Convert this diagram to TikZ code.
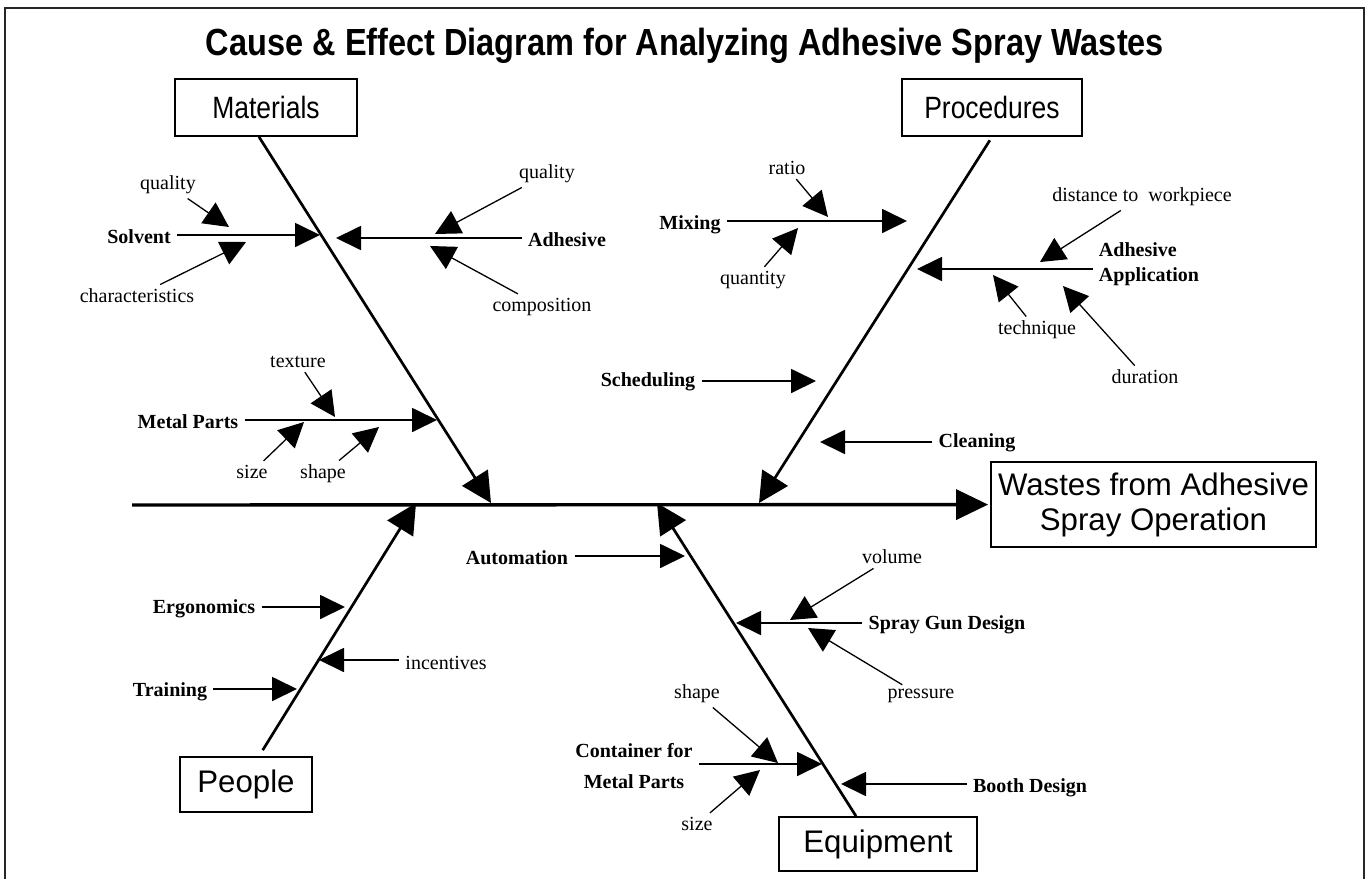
\documentclass[tikz,border=0pt]{standalone}
\usepackage{fontspec}
\setmainfont{Liberation Serif}
\newfontfamily\narrowsf[FakeStretch=0.86]{Liberation Sans}
\newfontfamily\plainsf{Liberation Sans}
\usetikzlibrary{arrows.meta}

\begin{document}
\begin{tikzpicture}[x=0.5pt,y=-0.5pt,
        catbox/.style={draw,line width=0.9pt,inner sep=0pt},
        causelbl/.style={font=\fontsize{10}{12.5}\selectfont\bfseries,inner sep=3pt},
        sublbl/.style={font=\fontsize{10}{12}\selectfont,inner sep=2pt},
        spine/.style={line width=1.7pt,-{Triangle[length=16pt,width=15pt]}},
        bone/.style={line width=1.35pt,-{Triangle[length=15pt,width=15pt]}},
        branch/.style={line width=0.9pt,-{Triangle[length=12.5pt,width=12pt]}},
        subarrow/.style={line width=0.65pt,-{Triangle[length=12.5pt,width=12.5pt]}}]
        \useasboundingbox (0,0) rectangle (1367,879);
        \draw [line width=1pt,black!85] (5,890) -- (5,8) -- (1364,8) -- (1364,890);

        \node [anchor=base,font=\narrowsf\bfseries\fontsize{18.9}{22}\selectfont] at (685,55) (title) {Cause \& Effect Diagram for Analyzing Adhesive Spray Wastes};

        \node [catbox,minimum width=91pt,minimum height=28.5pt,font=\narrowsf\fontsize{15.4}{18}\selectfont] at (266,107.5) (materials) {Materials};
        \node [catbox,minimum width=90pt,minimum height=28.5pt,font=\narrowsf\fontsize{15.4}{18}\selectfont] at (992,107.5) (procedures) {Procedures};
        \node [catbox,minimum width=66pt,minimum height=27.5pt,font=\plainsf\fontsize{15.6}{18}\selectfont] at (246,784.5) (people) {People};
        \node [catbox,minimum width=99pt,minimum height=27pt,font=\plainsf\fontsize{15.6}{18}\selectfont] at (878,844) (equipment) {Equipment};
        \node [catbox,minimum width=162.5pt,minimum height=42.5pt,align=center,font=\plainsf\fontsize{15.6}{17.5}\selectfont] at (1153.5,504.5) (effect) {Wastes from Adhesive\\Spray Operation};

        \coordinate (tail) at (132,505);
        \draw [spine,shorten >=1pt] (tail) -- (effect);

        \coordinate (m-tip) at (491,503);
        \coordinate (p-tip) at (759,503);
        \coordinate (pe-tip) at (416,503);
        \coordinate (e-tip) at (657,503);
        \draw [bone] ([xshift=-3.5pt]materials.south) -- (m-tip);
        \draw [bone,shorten <=2pt] (procedures.south) -- (p-tip);
        \draw [bone,shorten <=3.5pt] ([xshift=6.5pt]people.north) -- (pe-tip);
        \draw [bone] ([xshift=-11pt]equipment.north) -- (e-tip);

        \node [causelbl] at (139,237) (solvent) {Solvent};
        \node [causelbl] at (567,240) (adhesive) {Adhesive};
        \node [causelbl] at (188,422) (metal) {Metal Parts};
        \coordinate (solvent-tip) at (320,235);
        \coordinate (adhesive-tip) at (336,238);
        \coordinate (metal-tip) at (437,420);
        \draw [branch] (solvent.east |- solvent-tip) -- (solvent-tip);
        \draw [branch] (adhesive.west |- adhesive-tip) -- (adhesive-tip);
        \draw [branch] (metal.east |- metal-tip) -- (metal-tip);

        \node [causelbl] at (690,225) (mixing) {Mixing};
        \node [causelbl,align=left] at (1149,264) (application) {Adhesive\\Application};
        \node [causelbl] at (648,382) (scheduling) {Scheduling};
        \node [causelbl] at (977,443) (cleaning) {Cleaning};
        \coordinate (mixing-tip) at (907,221);
        \coordinate (application-tip) at (917,269);
        \coordinate (scheduling-tip) at (816,381);
        \coordinate (cleaning-tip) at (820,442);
        \draw [branch] (mixing.east |- mixing-tip) -- (mixing-tip);
        \draw [branch] (application.west |- application-tip) -- (application-tip);
        \draw [branch] (scheduling.east |- scheduling-tip) -- (scheduling-tip);
        \draw [branch] (cleaning.west |- cleaning-tip) -- (cleaning-tip);

        \node [causelbl] at (204,609) (ergonomics) {Ergonomics};
        \node [sublbl,inner sep=3pt] at (446,663) (incentives) {incentives};
        \node [causelbl] at (170,692) (training) {Training};
        \coordinate (ergonomics-tip) at (345,607);
        \coordinate (incentives-tip) at (319,660);
        \coordinate (training-tip) at (297,689);
        \draw [branch] (ergonomics.east |- ergonomics-tip) -- (ergonomics-tip);
        \draw [branch] (incentives.west |- incentives-tip) -- (incentives-tip);
        \draw [branch] (training.east |- training-tip) -- (training-tip);

        \node [causelbl] at (517,558) (automation) {Automation};
        \node [causelbl] at (947,625) (spraygun) {Spray Gun Design};
        \node [causelbl,align=center,font=\fontsize{10}{15.5}\selectfont\bfseries] at (634,766) (container) {Container for\\Metal Parts};
        \node [causelbl] at (1030,788) (booth) {Booth Design};
        \coordinate (automation-tip) at (685,556);
        \coordinate (spraygun-tip) at (736,623);
        \coordinate (container-tip) at (822,764);
        \coordinate (booth-tip) at (841,784);
        \draw [branch] (automation.east |- automation-tip) -- (automation-tip);
        \draw [branch] (spraygun.west |- spraygun-tip) -- (spraygun-tip);
        \draw [branch] (container.east |- container-tip) -- (container-tip);
        \draw [branch] (booth.west |- booth-tip) -- (booth-tip);

        \node [sublbl] at (168,185) (solvent-quality) {quality};
        \node [sublbl] at (137,296) (characteristics) {characteristics};
        \node [sublbl] at (547,174) (adhesive-quality) {quality};
        \node [sublbl] at (542,307) (composition) {composition};
        \node [sublbl] at (298,362) (texture) {texture};
        \node [sublbl] at (252,472) (metal-size) {size};
        \node [sublbl] at (323,474) (metal-shape) {shape};
        \coordinate (solvent-quality-tip) at (229,227);
        \coordinate (characteristics-tip) at (246,242);
        \coordinate (adhesive-quality-tip) at (435,234);
        \coordinate (composition-tip) at (430,246);
        \coordinate (texture-tip) at (335,417);
        \coordinate (metal-size-tip) at (304,422);
        \coordinate (metal-shape-tip) at (379,427);
        \draw [subarrow] (solvent-quality) -- (solvent-quality-tip);
        \draw [subarrow] (characteristics) -- (characteristics-tip);
        \draw [subarrow] (adhesive-quality) -- (adhesive-quality-tip);
        \draw [subarrow] (composition) -- (composition-tip);
        \draw [subarrow] (texture) -- (texture-tip);
        \draw [subarrow] (metal-size) -- (metal-size-tip);
        \draw [subarrow] (metal-shape) -- (metal-shape-tip);

        \node [sublbl] at (787,168) (ratio) {ratio};
        \node [sublbl] at (753,280) (quantity) {quantity};
        \node [sublbl] at (1142,197) (distance) {distance to\ \ workpiece};
        \node [sublbl] at (1037,330) (technique) {technique};
        \node [sublbl] at (1145,377) (duration) {duration};
        \coordinate (ratio-tip) at (828,217);
        \coordinate (quantity-tip) at (798,228);
        \coordinate (distance-tip) at (1040,262);
        \coordinate (technique-tip) at (993,275);
        \coordinate (duration-tip) at (1063,286);
        \draw [subarrow] (ratio) -- (ratio-tip);
        \draw [subarrow] (quantity) -- (quantity-tip);
        \draw [subarrow] (distance) -- (distance-tip);
        \draw [subarrow] (technique) -- (technique-tip);
        \draw [subarrow] (duration) -- (duration-tip);

        \node [sublbl] at (892,557) (volume) {volume};
        \node [sublbl] at (921,696) (pressure) {pressure};
        \node [sublbl] at (697,694) (container-shape) {shape};
        \node [sublbl] at (697,824) (container-size) {size};
        \coordinate (volume-tip) at (790,620);
        \coordinate (pressure-tip) at (808,628);
        \coordinate (container-shape-tip) at (778,763);
        \coordinate (container-size-tip) at (760,770);
        \draw [subarrow] (volume) -- (volume-tip);
        \draw [subarrow] (pressure) -- (pressure-tip);
        \draw [subarrow] (container-shape) -- (container-shape-tip);
        \draw [subarrow] (container-size) -- (container-size-tip);
      \end{tikzpicture}
\end{document}
